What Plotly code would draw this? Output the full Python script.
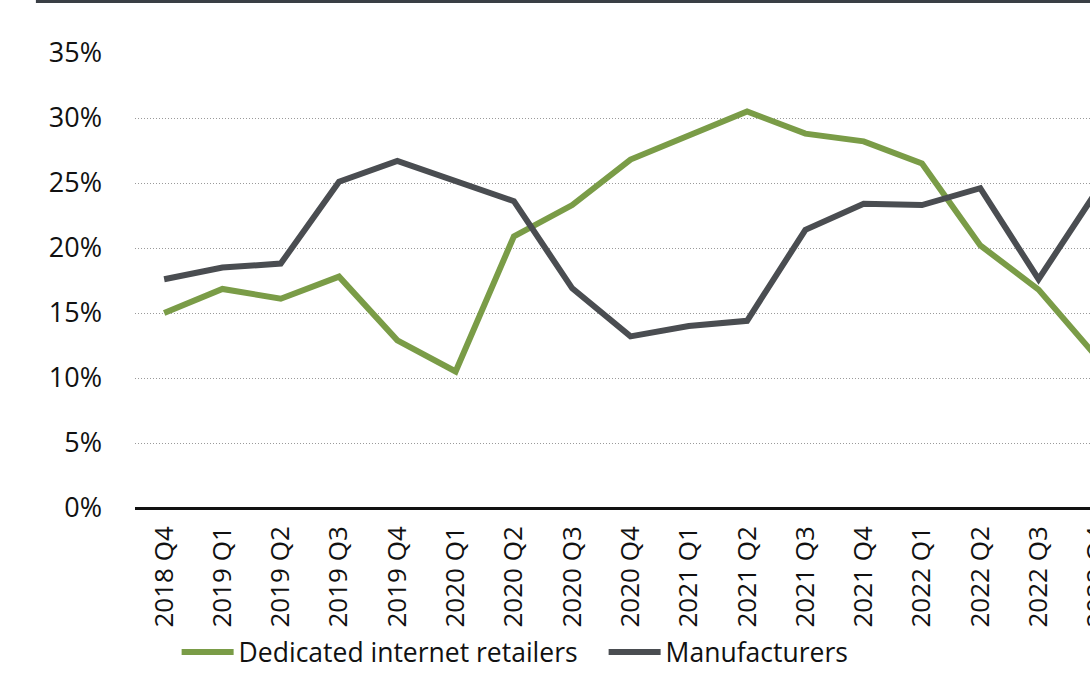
import plotly.graph_objects as go

categories = ["2018 Q4", "2019 Q1", "2019 Q2", "2019 Q3", "2019 Q4", "2020 Q1", "2020 Q2",
              "2020 Q3", "2020 Q4", "2021 Q1", "2021 Q2", "2021 Q3", "2021 Q4", "2022 Q1",
              "2022 Q2", "2022 Q3", "2022 Q4"]
retailers = [15.0, 16.85, 16.1, 17.8, 12.9, 10.5, 20.9, 23.3, 26.8, 28.7, 30.5, 28.8, 28.2,
             26.5, 20.2, 16.8, 11.6]
manufacturers = [17.6, 18.5, 18.8, 25.1, 26.7, 25.2, 23.6, 16.9, 13.2, 14.0, 14.4, 21.4, 23.4,
                 23.3, 24.6, 17.6, 24.4]
y_ticks = [0, 5, 10, 15, 20, 25, 30, 35]
y_ticktext = [f"{v}%" for v in y_ticks]

GREEN = "#7a9c47"
DARK = "#4a4d51"
FONT = "Open Sans"

fig = go.Figure()
fig.add_trace(go.Scatter(x=categories, y=retailers, mode="lines", name="Dedicated internet retailers",
                         line=dict(color=GREEN, width=6)))
fig.add_trace(go.Scatter(x=categories, y=manufacturers, mode="lines", name="Manufacturers",
                         line=dict(color=DARK, width=6)))

fig.update_layout(
    width=1140, height=692,
    margin=dict(l=135, r=14, t=53, b=184),
    paper_bgcolor="white", plot_bgcolor="white",
    font=dict(family=FONT, size=26, color="#111111"),
    showlegend=True,
    legend=dict(orientation="h", x=0.042, xanchor="left", y=-0.317, yanchor="middle",
                font=dict(size=26.5, color="#111111"), itemwidth=52, tracegroupgap=0,
                entrywidth=360, entrywidthmode="pixels",
                bgcolor="rgba(0,0,0,0)"),
    xaxis=dict(type="category", categoryorder="array", categoryarray=categories,
               range=[-0.5, len(categories) - 0.5], tickangle=-90, showgrid=False,
               showline=False, zeroline=False, ticks="", ticklabelstandoff=12,
               tickfont=dict(size=26, color="#111111")),
    yaxis=dict(range=[0, 35], tickvals=y_ticks, ticktext=y_ticktext, showgrid=True,
               gridcolor="#9a9a9a", griddash="1px,2px", gridwidth=1, zeroline=True,
               zerolinecolor="#111111", zerolinewidth=3, showline=False, ticks="",
               ticklabelstandoff=32, tickfont=dict(size=27, color="#111111")),
    shapes=[dict(type="line", xref="paper", yref="paper", x0=-0.1, x1=1.05, y0=1.113, y1=1.113,
                 line=dict(color="#3a3f45", width=3))],
)

fig.write_html("out.html", post_script="document.body.style.margin='0';document.body.style.overflow='hidden';document.documentElement.style.overflow='hidden';")
